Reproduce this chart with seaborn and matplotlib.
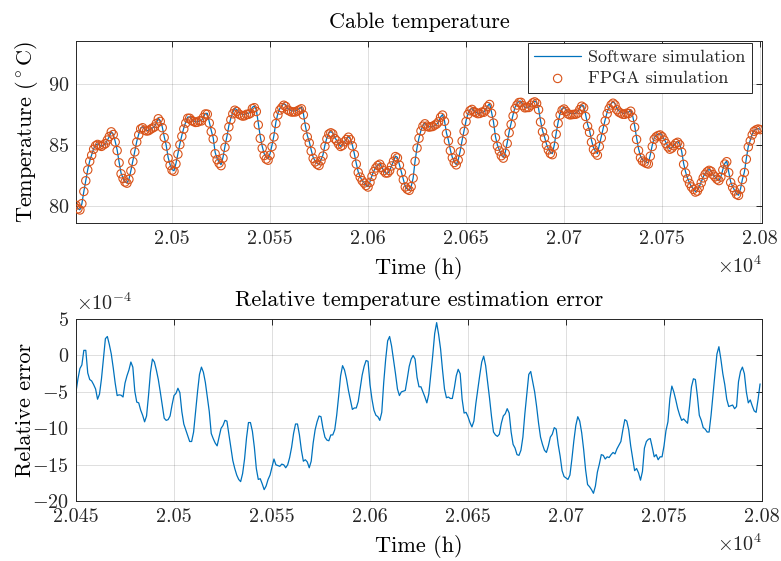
import matplotlib
matplotlib.use("Agg")
import matplotlib.pyplot as plt
import seaborn as sns
import numpy as np
import pandas as pd

# ---------------- data ----------------
t0_temp = 20451  # first hour of temperature series
temp_software = [
    80.1, 79.8, 79.7, 80.2, 81.2, 82.1, 83.0, 83.7, 84.2, 84.7,
    85.0, 85.1, 85.0, 84.9, 85.0, 85.1, 85.4, 85.7, 86.1, 85.9,
    85.3, 84.6, 83.6, 82.7, 82.3, 82.0, 81.9, 82.2, 82.9, 83.7,
    84.5, 85.3, 85.9, 86.4, 86.5, 86.3, 86.2, 86.2, 86.3, 86.4,
    86.5, 86.8, 87.2, 87.0, 86.5, 85.7, 85.0, 84.0, 83.4, 83.0,
    82.9, 83.5, 84.3, 85.1, 85.8, 86.4, 86.9, 87.3, 87.3, 87.1,
    87.0, 86.9, 86.9, 87.0, 87.0, 87.3, 87.6, 87.6, 86.9, 86.2,
    85.6, 84.4, 83.9, 83.6, 83.4, 84.0, 84.9, 85.7, 86.6, 87.2,
    87.7, 88.0, 87.9, 87.7, 87.6, 87.5, 87.5, 87.6, 87.6, 87.7,
    88.1, 88.2, 87.9, 86.8, 85.7, 84.9, 84.3, 84.0, 83.9, 84.3,
    85.0, 85.8, 86.9, 87.6, 88.0, 88.2, 88.4, 88.3, 88.0, 87.9,
    87.8, 87.8, 87.8, 87.9, 88.0, 88.1, 87.6, 86.6, 85.8, 85.3,
    84.6, 84.0, 83.7, 83.5, 83.4, 83.8, 84.2, 85.0, 85.6, 86.0,
    86.1, 86.0, 85.6, 85.4, 85.1, 84.9, 85.0, 85.3, 85.5, 85.7,
    85.5, 85.0, 84.3, 83.5, 82.8, 82.4, 82.1, 81.9, 81.7, 81.6,
    82.0, 82.5, 82.9, 83.2, 83.4, 83.5, 83.2, 82.9, 82.7, 82.7,
    82.9, 83.3, 83.7, 84.1, 84.0, 83.4, 82.8, 82.2, 81.6, 81.4,
    81.3, 81.6, 82.3, 83.7, 84.8, 85.6, 86.2, 86.6, 86.8, 86.6,
    86.5, 86.5, 86.5, 86.6, 86.7, 86.9, 87.3, 87.5, 87.0, 86.0,
    85.4, 84.6, 84.0, 83.6, 83.4, 83.8, 84.5, 85.4, 86.2, 87.0,
    87.6, 87.9, 88.0, 87.8, 87.7, 87.6, 87.6, 87.7, 87.7, 87.9,
    88.2, 88.4, 87.7, 86.9, 85.7, 85.0, 84.6, 84.2, 84.0, 84.4,
    85.2, 86.1, 86.8, 87.5, 88.1, 88.4, 88.6, 88.6, 88.3, 88.1,
    88.1, 88.1, 88.3, 88.5, 88.6, 88.5, 88.0, 87.0, 86.2, 85.7,
    85.1, 84.7, 84.4, 84.3, 85.0, 86.0, 86.9, 87.6, 88.0, 88.1,
    87.9, 87.7, 87.6, 87.6, 87.6, 87.6, 87.7, 88.0, 88.3, 88.2,
    87.5, 86.7, 86.2, 85.4, 84.8, 84.5, 84.3, 85.0, 85.7, 86.4,
    87.1, 87.7, 88.1, 88.4, 88.55, 88.4, 88.0, 87.8, 87.7, 87.6,
    87.6, 87.7, 87.7, 87.9, 87.4, 86.6, 85.6, 84.7, 84.1, 83.8,
    83.7, 83.6, 83.55, 84.2, 85.0, 85.6, 85.8, 85.9, 85.95, 85.8,
    85.5, 85.2, 84.9, 84.7, 84.8, 85.0, 85.2, 85.3, 85.1, 84.5,
    83.5, 82.8, 82.3, 81.9, 81.6, 81.4, 81.2, 81.3, 81.6, 82.0,
    82.4, 82.7, 82.9, 83.0, 82.9, 82.6, 82.4, 82.2, 82.1, 82.4,
    83.0, 83.5, 83.7, 82.8, 82.0, 81.6, 81.3, 81.0, 80.9, 81.4,
    82.2, 82.8, 83.9, 84.9, 85.4, 85.9, 86.2, 86.3, 86.35, 86.3,
]
# relative estimation error of the FPGA result, in units of 1e-4
t0_err = 20450
rel_error_e4 = [
    -5.0, -3.2, -1.8, -1.3, 0.7, 0.7, -2.4, -3.3, -3.5, -4.0,
    -4.6, -6.0, -5.3, -3.2, -0.5, 2.3, 2.6, 1.5, 0.2, -1.7,
    -3.8, -5.5, -5.4, -5.45, -5.7, -3.8, -2.8, -2.0, -0.9, -1.6,
    -4.9, -6.4, -6.5, -7.5, -8.2, -9.1, -8.3, -5.5, -2.3, -0.5,
    -0.9, -2.0, -3.3, -5.0, -6.8, -8.6, -8.9, -8.8, -8.3, -6.8,
    -5.5, -5.2, -4.5, -5.1, -7.7, -9.4, -10.2, -11.0, -11.8, -11.8,
    -10.5, -7.8, -5.0, -2.6, -1.6, -2.3, -3.7, -5.7, -7.7, -10.7,
    -11.4, -12.0, -12.4, -11.2, -10.0, -9.6, -8.9, -9.0, -10.8, -12.7,
    -14.4, -15.5, -16.4, -17.0, -17.3, -16.2, -14.2, -11.3, -9.2, -9.2,
    -10.4, -12.6, -15.5, -17.0, -16.9, -17.6, -18.4, -17.9, -17.0, -16.4,
    -15.3, -14.2, -15.0, -15.1, -15.2, -14.9, -15.0, -15.4, -15.0, -14.0,
    -12.6, -10.7, -9.4, -9.4, -10.9, -13.0, -14.5, -14.3, -14.6, -15.4,
    -14.5, -12.0, -10.2, -9.1, -8.3, -8.4, -10.0, -11.2, -11.6, -11.7,
    -10.9, -10.9, -10.2, -8.2, -5.6, -2.8, -1.4, -2.0, -3.2, -4.8,
    -6.1, -7.4, -7.2, -7.2, -6.3, -4.5, -2.7, -1.5, -0.7, -0.8,
    -4.0, -6.0, -7.5, -8.2, -8.4, -8.9, -7.8, -3.7, -0.5, 2.0,
    2.6, 1.3, -0.6, -2.5, -4.6, -5.5, -5.0, -4.9, -4.8, -3.2,
    -1.5, -0.5, 0.0, -0.5, -3.0, -4.3, -4.3, -5.0, -5.7, -6.5,
    -5.3, -2.6, 0.0, 3.0, 4.5, 2.9, 0.9, -2.0, -4.6, -5.8,
    -5.7, -5.9, -5.9, -4.5, -2.8, -1.9, -2.5, -6.0, -7.9, -7.8,
    -8.4, -9.2, -9.8, -9.0, -6.6, -4.6, -2.7, -0.9, -0.1, -1.4,
    -3.6, -5.9, -8.4, -10.5, -10.9, -11.1, -10.8, -9.3, -8.3, -8.0,
    -7.3, -7.9, -10.5, -12.2, -12.7, -13.6, -13.7, -13.0, -11.2, -8.0,
    -5.3, -2.6, -2.2, -3.6, -5.0, -7.0, -9.3, -11.2, -12.2, -13.0,
    -13.3, -12.4, -11.2, -10.8, -9.9, -10.1, -12.2, -13.8, -15.8, -16.6,
    -16.8, -17.0, -16.4, -14.2, -11.7, -9.6, -8.4, -9.0, -10.6, -12.9,
    -15.7, -17.7, -18.0, -18.4, -18.9, -17.9, -16.0, -14.9, -13.6, -13.7,
    -14.2, -13.9, -14.0, -13.6, -13.3, -13.5, -12.8, -12.3, -11.8, -10.2,
    -8.8, -9.0, -10.2, -12.4, -14.1, -15.8, -15.5, -16.1, -17.1, -15.9,
    -12.7, -11.8, -11.5, -11.4, -12.6, -13.9, -13.6, -14.3, -13.9, -13.9,
    -12.4, -10.3, -9.1, -5.9, -4.2, -5.0, -6.1, -7.3, -8.2, -8.9,
    -8.7, -9.0, -9.3, -7.0, -4.3, -3.2, -3.3, -5.5, -8.2, -8.9,
    -9.9, -10.1, -10.5, -10.5, -8.2, -5.3, -2.5, 0.2, 1.2, -0.5,
    -2.5, -4.0, -6.0, -7.0, -6.9, -6.8, -7.3, -7.0, -3.6, -2.2,
    -1.6, -2.5, -5.0, -6.5, -6.1, -6.9, -7.6, -7.8, -6.0, -3.9,
]

hours_temp = np.arange(t0_temp, t0_temp + len(temp_software))
hours_err = np.arange(t0_err, t0_err + len(rel_error_e4))
rel_err = np.array(rel_error_e4)
# FPGA temperature = software temperature * (1 + relative error)
err_at_temp = np.interp(hours_temp, hours_err, rel_err) * 1e-4
temp_fpga = np.array(temp_software) * (1 + err_at_temp)

df_temp = pd.DataFrame({"Time": hours_temp, "Software": temp_software, "FPGA": temp_fpga})
df_err = pd.DataFrame({"Time": hours_err, "Error": rel_err})

xticks_top = [20500, 20550, 20600, 20650, 20700, 20750, 20800]
xticklabels_top = ["2.05", "2.055", "2.06", "2.065", "2.07", "2.075", "2.08"]
xticks_bot = [20450, 20500, 20550, 20600, 20650, 20700, 20750, 20800]
xticklabels_bot = ["2.045", "2.05", "2.055", "2.06", "2.065", "2.07", "2.075", "2.08"]
yticks_top = [80, 85, 90]
yticks_bot = [5, 0, -5, -10, -15, -20]

# ---------------- style ----------------
sns.set_theme(style="white")
plt.rcParams.update({
    "font.family": "serif",
    "font.serif": ["cmr10", "DejaVu Serif"],
    "mathtext.fontset": "cm",
    "axes.unicode_minus": False,
    "axes.formatter.use_mathtext": True,
})

BLUE = "#0072BD"
ORANGE = "#D95319"
DARK = "#262626"
TICK_FS = 14.5
LABEL_FS = 16

fig = plt.figure(figsize=(7.81, 5.61), dpi=100)
ax1 = fig.add_axes([0.0973, 0.602, 0.8784, 0.3255])
ax2 = fig.add_axes([0.0973, 0.1064, 0.8784, 0.325])

def fmt_num(v):
    return f"${v:g}$"

for ax in (ax1, ax2):
    ax.grid(True, color=DARK, alpha=0.15, linewidth=0.7)
    ax.set_axisbelow(True)
    for s in ax.spines.values():
        s.set_color(DARK)
        s.set_linewidth(0.7)
    ax.tick_params(direction="in", top=True, right=True, length=4, width=0.7,
                   colors=DARK, labelsize=TICK_FS, pad=5)

# ---- top: temperature ----
sns.lineplot(data=df_temp, x="Time", y="Software", ax=ax1, color=BLUE,
             linewidth=0.9, label="Software simulation")
sns.scatterplot(data=df_temp, x="Time", y="FPGA", ax=ax1, marker="o",
                facecolor="none", edgecolor=ORANGE, linewidth=0.8, s=36,
                label="FPGA simulation", zorder=3)
ax1.set_xlim(20451, 20801)
ax1.set_ylim(78.6, 93.55)
ax1.set_xticks(xticks_top)
ax1.set_xticklabels(xticklabels_top)
ax1.set_yticks(yticks_top)
ax1.set_yticklabels([fmt_num(v) for v in yticks_top])
ax1.set_title("Cable temperature", fontsize=LABEL_FS, color="black", pad=9)
ax1.set_xlabel("Time (h)", fontsize=LABEL_FS, color="black", labelpad=6.5)
ax1.set_ylabel(r"Temperature ($^\circ$C)", fontsize=LABEL_FS, color="black")
ax1.yaxis.set_label_coords(-0.053, 0.5)
ax1.text(1.0, -0.175, r"$\times10^{4}$", transform=ax1.transAxes, ha="right",
         va="top", fontsize=TICK_FS, color=DARK)
leg = ax1.legend(loc="upper right", bbox_to_anchor=(1 - 10 / 686, 1 - 2.5 / 182.6),
                 fontsize=13, frameon=True, fancybox=False, handlelength=2.6,
                 borderpad=0.35, labelspacing=0.3, handletextpad=0.4,
                 borderaxespad=0.0)
leg.get_frame().set_edgecolor(DARK)
leg.get_frame().set_linewidth(0.7)
leg.get_frame().set_alpha(1)

# ---- bottom: relative error ----
sns.lineplot(data=df_err, x="Time", y="Error", ax=ax2, color=BLUE, linewidth=0.9)
ax2.set_xlim(20450, 20800)
ax2.set_ylim(-20, 5)
ax2.set_xticks(xticks_bot)
ax2.set_xticklabels(xticklabels_bot)
ax2.set_yticks(yticks_bot)
ax2.set_yticklabels([fmt_num(v) for v in yticks_bot])
ax2.set_title("Relative temperature estimation error", fontsize=LABEL_FS, color="black", pad=9)
ax2.set_xlabel("Time (h)", fontsize=LABEL_FS, color="black", labelpad=6.5)
ax2.set_ylabel("Relative error", fontsize=LABEL_FS, color="black")
ax2.yaxis.set_label_coords(-0.06, 0.5)
ax2.text(1.0, -0.175, r"$\times10^{4}$", transform=ax2.transAxes, ha="right",
         va="top", fontsize=TICK_FS, color=DARK)
ax2.text(0.0, 1.03, r"$\times10^{-4}$", transform=ax2.transAxes, ha="left",
         va="bottom", fontsize=TICK_FS, color=DARK)

fig.savefig("out.png", dpi=100)
